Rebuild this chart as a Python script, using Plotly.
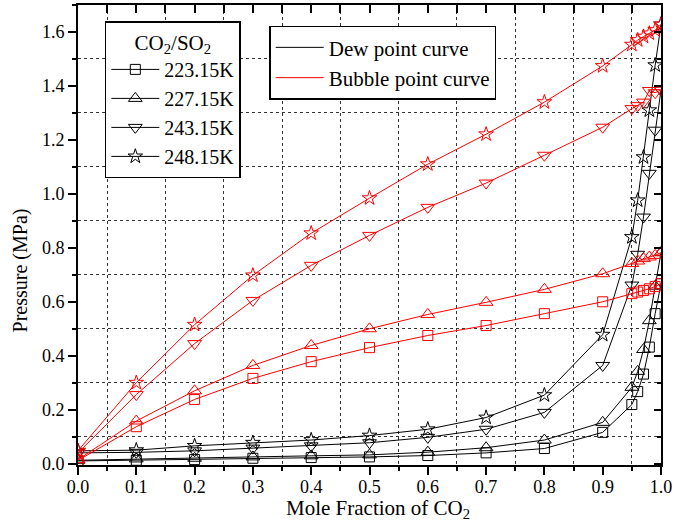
import plotly.graph_objects as go

x_co2 = [0, 0.1, 0.2, 0.3, 0.4, 0.5, 0.6, 0.7, 0.8, 0.9, 0.95, 0.96, 0.97, 0.98, 0.99, 1.0]

temps = ["223.15K", "227.15K", "243.15K", "248.15K"]
symbols = ["square-open", "triangle-up-open", "triangle-down-open", "star-open"]
msizes = [10, 12, 12, 11]

bubble_223 = [0.012, 0.137, 0.238, 0.316, 0.378, 0.430, 0.475, 0.512, 0.556, 0.600, 0.630, 0.636, 0.642, 0.648, 0.657, 0.667]
bubble_227 = [0.015, 0.158, 0.270, 0.364, 0.438, 0.500, 0.553, 0.598, 0.646, 0.704, 0.742, 0.751, 0.760, 0.766, 0.772, 0.782]
bubble_243 = [0.040, 0.256, 0.445, 0.605, 0.735, 0.846, 0.950, 1.040, 1.143, 1.247, 1.316, 1.327, 1.340, 1.383, 1.375, 1.385]
bubble_248 = [0.048, 0.300, 0.515, 0.698, 0.854, 0.984, 1.110, 1.221, 1.340, 1.474, 1.553, 1.570, 1.583, 1.595, 1.607, 1.628]

dew_223 = [0.010, 0.0125, 0.015, 0.020, 0.0225, 0.025, 0.030, 0.040, 0.056, 0.116, 0.219, 0.267, 0.332, 0.432, 0.556, 0.667]
dew_227 = [0.0125, 0.0175, 0.020, 0.025, 0.029, 0.0325, 0.0425, 0.059, 0.0875, 0.153, 0.283, 0.342, 0.423, 0.530, 0.658, 0.782]
dew_243 = [0.040, 0.042, 0.0475, 0.0575, 0.066, 0.0775, 0.0975, 0.1275, 0.190, 0.364, 0.662, 0.776, 0.914, 1.076, 1.236, 1.385]
dew_248 = [0.0475, 0.050, 0.066, 0.0775, 0.0875, 0.104, 0.1275, 0.171, 0.254, 0.478, 0.840, 0.976, 1.136, 1.310, 1.477, 1.628]

bubbles = [bubble_223, bubble_227, bubble_243, bubble_248]
dews = [dew_223, dew_227, dew_243, dew_248]

FONT = "Liberation Serif"
fig = go.Figure()

# data traces
for i in range(4):
    fig.add_trace(go.Scatter(
        x=x_co2, y=dews[i], mode="lines+markers", showlegend=False,
        line=dict(color="black", width=1),
        marker=dict(symbol=symbols[i], size=msizes[i], color="black", line=dict(width=1)),
    ))
for i in range(4):
    fig.add_trace(go.Scatter(
        x=x_co2, y=bubbles[i], mode="lines+markers", showlegend=False,
        line=dict(color="red", width=1),
        marker=dict(symbol=symbols[i], size=msizes[i], color="red", line=dict(width=1)),
    ))

# legend 1 entries
for i in range(4):
    fig.add_trace(go.Scatter(
        x=[None], y=[None], mode="lines+markers", name=temps[i], legend="legend",
        line=dict(color="black", width=1),
        marker=dict(symbol=symbols[i], size=msizes[i], color="black", line=dict(width=1)),
    ))
# legend 2 entries
fig.add_trace(go.Scatter(x=[None], y=[None], mode="lines", name="Dew point curve",
                         legend="legend2", line=dict(color="black", width=1)))
fig.add_trace(go.Scatter(x=[None], y=[None], mode="lines", name="Bubble point curve",
                         legend="legend2", line=dict(color="red", width=1)))

# dummy trace for mirror axes
fig.add_trace(go.Scatter(x=[None], y=[None], xaxis="x2", yaxis="y2", showlegend=False,
                         hoverinfo="skip"))

XR = [0, 1.0]
YR = [-0.005, 1.7]
grid = dict(showgrid=True, gridcolor="#333333", gridwidth=1, griddash="3px,3px")

fig.update_layout(
    width=677, height=524,
    margin=dict(l=78, r=13, t=5, b=59),
    plot_bgcolor="white", paper_bgcolor="white",
    font=dict(family=FONT, size=18, color="black"),
    xaxis=dict(range=XR, dtick=0.1, tick0=0, tickformat=".1f",
               showgrid=False, zeroline=False,
               showline=True, linecolor="black", linewidth=2,
               ticks="outside", ticklen=8, tickwidth=1.5, tickcolor="black",
               ticklabelstandoff=-4,
               minor=dict(dtick=0.05, tick0=0, ticks="outside", ticklen=4, tickcolor="black", **grid),
               tickfont=dict(size=18, family=FONT)),
    yaxis=dict(range=YR, dtick=0.2, tick0=0, tickformat=".1f",
               showgrid=False, zeroline=False,
               showline=True, linecolor="black", linewidth=2,
               ticks="outside", ticklen=8, tickwidth=1.5, tickcolor="black",
               minor=dict(dtick=0.1, tick0=0, ticks="outside", ticklen=4, tickcolor="black", **grid),
               tickfont=dict(size=18, family=FONT)),
    xaxis2=dict(range=XR, overlaying="x", side="top", showticklabels=False,
                showgrid=False, zeroline=False, dtick=0.1, tick0=0,
                showline=True, linecolor="black", linewidth=2,
                ticks="inside", ticklen=8, tickwidth=1.5, tickcolor="black",
                minor=dict(dtick=0.05, tick0=0, ticks="inside", ticklen=8, tickcolor="black")),
    yaxis2=dict(range=YR, overlaying="y", side="right", showticklabels=False,
                showgrid=False, zeroline=False, dtick=0.2, tick0=0,
                showline=True, linecolor="black", linewidth=2,
                ticks="inside", ticklen=7, tickwidth=1.5, tickcolor="black",
                minor=dict(dtick=0.1, tick0=0, ticks="inside", ticklen=4, tickcolor="black")),
    legend=dict(x=0.046, y=0.965, xanchor="left", yanchor="top",
                bgcolor="white", bordercolor="black", borderwidth=1.5,
                font=dict(family=FONT, size=20),
                title=dict(text="CO<sub>2</sub>/SO<sub>2</sub>", side="top center",
                           font=dict(family=FONT, size=21)),
                itemwidth=48),
    legend2=dict(x=0.328, y=0.955, xanchor="left", yanchor="top",
                 bgcolor="white", bordercolor="black", borderwidth=1.5,
                 font=dict(family=FONT, size=21), itemwidth=48),
    annotations=[
        dict(text="Mole Fraction of CO<sub>2</sub>", xref="paper", yref="paper",
             x=0.514, y=-0.095, xanchor="center", yanchor="middle", showarrow=False,
             font=dict(family=FONT, size=21)),
        dict(text="Pressure (MPa)", xref="paper", yref="paper", textangle=-90,
             x=-0.097, y=0.424, xanchor="center", yanchor="middle", showarrow=False,
             font=dict(family=FONT, size=20)),
    ],
)

fig.write_html("out.html", config={"displayModeBar": False},
               post_script="document.body.style.margin='0';document.body.style.padding='0';")
